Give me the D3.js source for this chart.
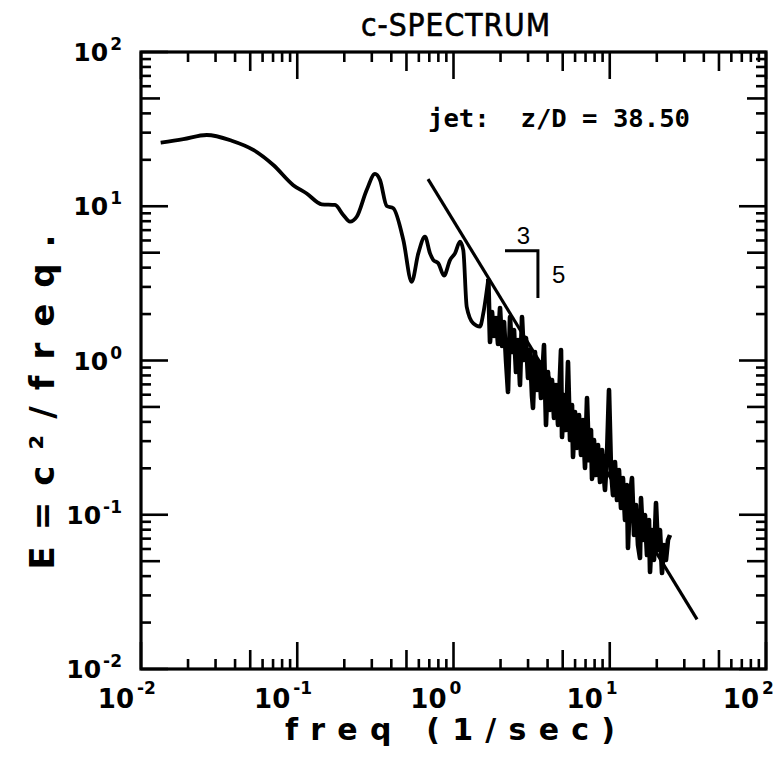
<!DOCTYPE html>
<html><head><meta charset="utf-8">
<script src="https://cdn.jsdelivr.net/npm/d3@7"></script>
<style>body{margin:0;background:#fff}</style>
</head><body>
<svg id="c" width="779" height="757"></svg>
<script>
// ---- data ----
const xDomain = [0.01, 100];
const yDomain = [0.01, 100];
const xTickExps = [-2, -1, 0, 1, 2];
const yTickExps = [2, 1, 0, -1, -2];
const minorMults = [2, 3, 4, 5, 6, 7, 8, 9];

const smoothFreq = [0.01337,0.01866,0.02634,0.03806,0.0523,0.0703,0.0943,0.1149,0.1434,0.1744,0.197,0.2176,0.2402,0.2782,0.3145,0.3386,0.3737,0.4118,0.4774,0.540,0.5953,0.657,0.7076,0.7426,0.7991,0.8694,0.950,1.022,1.1005,1.155,1.215,1.339,1.478,1.551,1.670];
const smoothE = [25.8,27.2,28.97,26.6,23.2,18.5,13.7,12.1,10.3,10.2,8.78,7.94,8.55,12.75,16.2,14.8,10.04,9.7,6.04,3.24,4.95,6.35,4.95,4.48,4.27,3.55,4.48,4.95,5.89,5.2,2.23,1.74,1.66,2.02,3.38];

const noisyFreq = [1.670,1.712,1.764,1.816,1.871,1.927,1.985,2.044,2.105,2.168,2.233,2.300,2.368,2.439,2.512,2.587,2.664,2.744,2.826,2.911,2.998,3.087,3.180,3.227,3.323,3.422,3.525,3.631,3.795,3.908,4.025,4.146,4.270,4.397,4.529,4.665,4.875,4.948,5.096,5.248,5.405,5.567,5.734,5.819,5.993,6.172,6.357,6.546,6.742,6.944,7.152,7.366,7.586,7.699,7.929,8.166,8.410,8.662,8.921,9.187,9.324,9.603,9.890,10.19,10.49,10.80,11.13,11.46,11.80,12.15,12.52,12.89,13.08,13.48,13.88,14.30,14.72,15.16,15.62,15.85,16.32,16.81,17.31,17.83,18.10,18.64,19.20,19.77,20.36,20.97,21.60,22.24,22.91,23.59,24.30];
const noisyE = [3.38,1.318,2.063,1.441,1.886,1.279,2.190,1.242,1.777,1.007,0.625,1.914,1.135,1.577,0.842,1.358,0.694,1.914,1.007,1.399,0.770,1.170,0.589,0.492,1.135,0.644,0.978,0.571,1.260,0.382,0.842,0.478,0.747,0.424,0.694,0.382,1.170,0.319,0.597,0.354,0.978,0.305,0.515,0.237,0.464,0.271,0.443,0.244,0.411,0.201,0.571,0.226,0.354,0.1705,0.305,0.181,0.283,0.163,0.263,0.173,0.1447,0.244,0.644,0.195,0.134,0.220,0.1246,0.195,0.1106,0.173,0.0925,0.156,0.0609,0.134,0.173,0.0739,0.1157,0.0637,0.0524,0.1284,0.0686,0.0996,0.0548,0.0925,0.0425,0.0796,0.0509,0.1192,0.0591,0.0796,0.0419,0.0637,0.0509,0.0686,0.0739];

const slopeLineFreq = [0.687, 36.2];
const slopeLineE = [15.0, 0.021];
const triangleFreq = [2.136, 3.47, 3.47];
const triangleE = [5.15, 5.15, 2.54];
const triangleLabels = ["3", "5"];

const titleText = "c-SPECTRUM";
const xTitle = "freq (1/sec)";
const yTitle = "E=c\u00B2/freq.";
const noteText = "jet:  z/D = 38.50";

// ---- layout ----
const L = 141, R = 766, T = 52, B = 669;
const svg = d3.select("#c");
const x = d3.scaleLog().domain(xDomain).range([L, R]);
const y = d3.scaleLog().domain(yDomain).range([B, T]);
const sans = "'DejaVu Sans', sans-serif";

// ticks
const ticks = [];
for (let d = -2; d < 2; d++) {
  ticks.push({v: Math.pow(10, d), len: 27});
  minorMults.forEach(m => ticks.push({v: m * Math.pow(10, d), len: m === 5 ? 19 : 10}));
}
ticks.push({v: 100, len: 27});

const tg = svg.append("g").attr("stroke", "#000").attr("stroke-width", 2.6);
ticks.forEach(t => {
  const px = x(t.v), py = y(t.v);
  tg.append("line").attr("x1", px).attr("x2", px).attr("y1", B).attr("y2", B - t.len);
  tg.append("line").attr("x1", px).attr("x2", px).attr("y1", T).attr("y2", T + t.len);
  tg.append("line").attr("y1", py).attr("y2", py).attr("x1", L).attr("x2", L + t.len);
  tg.append("line").attr("y1", py).attr("y2", py).attr("x1", R).attr("x2", R - t.len);
});

svg.append("rect").attr("x", L).attr("y", T).attr("width", R - L).attr("height", B - T)
  .attr("fill", "none").attr("stroke", "#000").attr("stroke-width", 3.2);

// x tick labels
xTickExps.forEach(e => {
  const px = x(Math.pow(10, e));
  svg.append("text").attr("x", px - 7).attr("y", 708).attr("text-anchor", "end")
    .attr("font-family", sans).attr("font-weight", "bold").attr("font-size", 26).text("10");
  svg.append("text").attr("x", px - 4).attr("y", 694).attr("text-anchor", "start")
    .attr("font-family", sans).attr("font-weight", "bold").attr("font-size", 17).text(e < 0 ? "-" + (-e) : String(e));
});
// y tick labels
yTickExps.forEach(e => {
  const py = y(Math.pow(10, e));
  const t = svg.append("text").attr("x", 122).attr("y", py + 9).attr("text-anchor", "end")
    .attr("font-family", sans).attr("font-weight", "bold").attr("font-size", 25);
  t.append("tspan").text("10");
  t.append("tspan").attr("dy", -11).attr("dx", 2).attr("font-size", 17).text(e < 0 ? "-" + (-e) : String(e));
});

// titles
svg.append("text").attr("x", 456).attr("y", 36).attr("text-anchor", "middle")
  .attr("font-family", "'Liberation Sans Narrow','DejaVu Sans Condensed',sans-serif")
  .attr("font-size", 32).attr("letter-spacing", 1).attr("textLength", 190).attr("lengthAdjust", "spacingAndGlyphs")
  .attr("stroke", "#000").attr("stroke-width", 0.6).text(titleText);
svg.append("text").attr("x", 450).attr("y", 740).attr("text-anchor", "middle")
  .attr("font-family", sans).attr("font-weight", "bold").attr("font-size", 30)
  .attr("textLength", 330).attr("lengthAdjust", "spacing").text(xTitle);
svg.append("text").attr("transform", "translate(54,402) rotate(-90)").attr("text-anchor", "middle")
  .attr("font-family", sans).attr("font-weight", "bold").attr("font-size", 34)
  .attr("textLength", 335).attr("lengthAdjust", "spacing").text(yTitle);

// annotation
svg.append("text").attr("x", 428).attr("y", 127).attr("xml:space", "preserve")
  .attr("font-family", "'DejaVu Sans Mono', monospace").attr("font-weight", "bold").attr("font-size", 24)
  .attr("textLength", 262).attr("lengthAdjust", "spacingAndGlyphs").style("white-space", "pre").text(noteText);

// data lines
const smooth = smoothFreq.map((f, i) => [f, smoothE[i]]);
const noisy = noisyFreq.map((f, i) => [f, noisyE[i]]);
svg.append("path").datum(smooth)
  .attr("d", d3.line().x(d => x(d[0])).y(d => y(d[1])).curve(d3.curveMonotoneX))
  .attr("fill", "none").attr("stroke", "#000").attr("stroke-width", 3.8).attr("stroke-linejoin", "round");
svg.append("path").datum(noisy)
  .attr("d", d3.line().x(d => x(d[0])).y(d => y(d[1])))
  .attr("fill", "none").attr("stroke", "#000").attr("stroke-width", 4.6).attr("stroke-linejoin", "round");

// -5/3 line
svg.append("path").datum(slopeLineFreq.map((f, i) => [f, slopeLineE[i]]))
  .attr("d", d3.line().x(d => x(d[0])).y(d => y(d[1])))
  .attr("fill", "none").attr("stroke", "#000").attr("stroke-width", 3.2);

// slope triangle
const tri = triangleFreq.map((f, i) => [f, triangleE[i]]);
svg.append("path").datum(tri)
  .attr("d", d3.line().x(d => x(d[0])).y(d => y(d[1])))
  .attr("fill", "none").attr("stroke", "#000").attr("stroke-width", 3);
svg.append("text").attr("x", (x(tri[0][0]) + x(tri[1][0])) / 2 + 2).attr("y", y(tri[0][1]) - 7)
  .attr("text-anchor", "middle").attr("font-family", "'Liberation Sans Narrow','Liberation Sans',sans-serif")
  .attr("font-size", 24).text(triangleLabels[0]);
svg.append("text").attr("x", x(tri[1][0]) + 14).attr("y", (y(tri[1][1]) + y(tri[2][1])) / 2 + 9)
  .attr("text-anchor", "start").attr("font-family", "'Liberation Sans Narrow','Liberation Sans',sans-serif")
  .attr("font-size", 24).text(triangleLabels[1]);
</script>
</body></html>
